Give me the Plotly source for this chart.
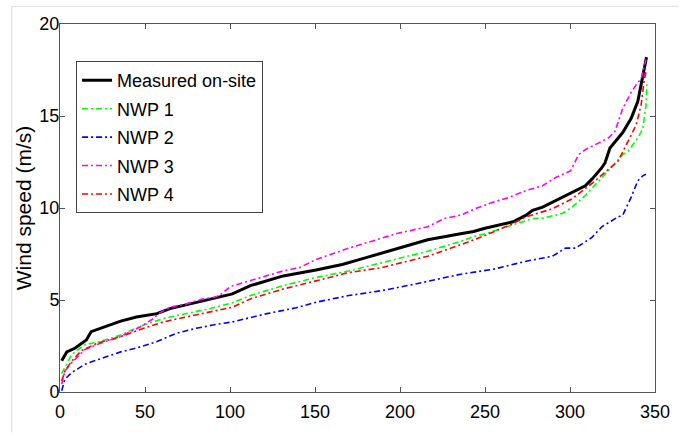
import plotly.graph_objects as go

# Sorted wind speed (duration curves), m/s vs. sample rank
measured_x = [1, 4, 9, 15.5, 18.3, 26, 35.7, 45, 50.2, 57, 64.7, 74.3, 84, 93.7, 101.4, 112, 131.3,
              150.6, 166, 179.6, 193, 208.6, 216.3, 235.6, 243.3, 250, 266.5, 274.2, 278, 283.9,
              295.5, 301.3, 309, 312.9, 318.7, 320.6, 323.5, 331, 336, 339.9, 341.8, 343.7, 345]
measured_y = [1.7, 2.18, 2.39, 2.83, 3.28, 3.55, 3.85, 4.08, 4.17, 4.26, 4.53, 4.74, 4.92, 5.15, 5.33,
              5.78, 6.31, 6.63, 6.93, 7.29, 7.65, 8.09, 8.27, 8.6, 8.72, 8.9, 9.25, 9.61, 9.87, 10.05,
              10.59, 10.85, 11.21, 11.57, 12.19, 12.46, 13.26, 14.1, 14.87, 15.8, 16.7, 17.54, 18.2]

nwp1_x = [1, 6.8, 14.5, 22.2, 35.7, 49.2, 60.8, 74.3, 87.9, 101.4, 112, 131.3, 150.6, 169.9, 189.3,
          208.6, 216.3, 235.6, 243.3, 250, 266.5, 278, 283.9, 295.5, 301.3, 309, 322.5, 331, 334.1,
          339.9, 342.8, 344.7, 345.3]
nwp1_y = [1.0, 2.03, 2.57, 2.71, 3.1, 3.64, 3.99, 4.26, 4.53, 4.85, 5.24, 5.78, 6.22, 6.58, 7.02,
          7.47, 7.65, 8.18, 8.45, 8.6, 9.07, 9.43, 9.45, 9.7, 10.05, 10.68, 12.02, 12.9, 13.08,
          13.8, 14.3, 15.58, 16.8]

nwp2_x = [1, 2.9, 6.8, 14.5, 22.2, 35.7, 45, 57, 68.5, 80.1, 89.8, 101.4, 121.7, 139, 150.6, 169.9,
          189.3, 208.6, 235.6, 254.9, 274.2, 289.7, 297.4, 303.2, 312.9, 318.7, 328.3, 331, 336,
          339.9, 342.8, 344.7]
nwp2_y = [0.07, 0.7, 1.05, 1.5, 1.76, 2.18, 2.39, 2.74, 3.19, 3.46, 3.64, 3.81, 4.26, 4.58, 4.88,
          5.24, 5.51, 5.86, 6.4, 6.67, 7.11, 7.38, 7.82, 7.82, 8.4, 8.98, 9.52, 9.61, 10.59, 11.48,
          11.75, 11.83]

nwp3_x = [1, 2.9, 6.8, 14.5, 22.2, 35.7, 47.3, 55, 58, 64.7, 74.3, 84, 90.8, 93.7, 100.4, 112,
          121.7, 131.3, 141, 150.6, 169.9, 179.6, 189.3, 198.9, 216.3, 226, 235.6, 245.3, 254.9,
          264.6, 274.2, 283.9, 291.6, 300.3, 305.1, 309, 314.8, 322.5, 326.4, 331, 336, 339.9,
          341.8, 343.3, 344.7]
nwp3_y = [0.43, 1.14, 1.59, 2.3, 2.6, 3.01, 3.55, 3.99, 4.26, 4.61, 4.79, 5.06, 5.15, 5.24, 5.74,
          6.04, 6.31, 6.58, 6.76, 7.2, 7.82, 8.09, 8.36, 8.63, 8.98, 9.43, 9.61, 10.0, 10.32,
          10.59, 10.95, 11.21, 11.66, 12.02, 12.9, 13.17, 13.44, 13.8, 14.15, 15.4, 16.29, 16.83,
          17.0, 17.54, 18.07]

nwp4_x = [1, 2.9, 6.8, 12.6, 22.2, 35.7, 49.2, 60.8, 74.3, 87.9, 101.4, 112, 131.3, 150.6, 169.9,
          189.3, 208.6, 216.3, 235.6, 243.3, 250, 266.5, 274.2, 289.7, 301.3, 314.8, 328.3, 334.1,
          338.9, 341.8, 343.7, 345]
nwp4_y = [0.6, 1.14, 1.67, 2.25, 2.66, 3.01, 3.46, 3.81, 4.08, 4.35, 4.61, 5.06, 5.6, 6.04, 6.49,
          6.76, 7.2, 7.38, 8.0, 8.27, 8.5, 9.16, 9.52, 9.96, 10.5, 11.48, 12.55, 13.62, 14.51,
          15.58, 17.0, 17.5]

x_ticks = [0, 50, 100, 150, 200, 250, 300, 350]
y_ticks = [0, 5, 10, 15, 20]

FONT = "Arial, Liberation Sans, sans-serif"
DASHDOT = "6px,3px,2px,3px"

series = [
    ("Measured on-site", measured_x, measured_y, "#000000", 3, "solid"),
    ("NWP 1", nwp1_x, nwp1_y, "#00ff00", 1.6, DASHDOT),
    ("NWP 2", nwp2_x, nwp2_y, "#0000ff", 1.6, DASHDOT),
    ("NWP 3", nwp3_x, nwp3_y, "#ff00ff", 1.6, DASHDOT),
    ("NWP 4", nwp4_x, nwp4_y, "#ff0000", 1.6, DASHDOT),
]

fig = go.Figure()
for name, xs, ys, color, width, dash in series:
    fig.add_trace(go.Scatter(
        x=xs, y=ys, mode="lines", name=name, legendgroup=name,
        line=dict(color=color, width=width, dash=dash),
    ))

axis_common = dict(
    showline=True, linecolor="#555555", linewidth=1, mirror="ticks",
    ticks="inside", ticklen=5, tickcolor="#555555", tickwidth=1,
    showgrid=False, zeroline=False,
    tickfont=dict(family=FONT, size=18, color="#000000"),
)

fig.update_layout(
    width=682, height=434,
    margin=dict(l=60, r=18, t=24, b=36),
    paper_bgcolor="white", plot_bgcolor="white",
    font=dict(family=FONT, size=18, color="#000000"),
    xaxis=dict(range=[0, 350], tickvals=x_ticks, ticklabelstandoff=3, **axis_common),
    yaxis=dict(range=[0, 20], tickvals=y_ticks, ticklabelstandoff=-4,
               title=dict(text="Wind speed (m/s)", font=dict(family=FONT, size=21), standoff=2),
               **axis_common),
    legend=dict(
        x=0.027, y=0.899, xanchor="left", yanchor="top",
        bgcolor="white", bordercolor="#444444", borderwidth=1,
        font=dict(family=FONT, size=18, color="#000000"),
        tracegroupgap=2, itemwidth=30,
    ),
    shapes=[
        # light frame lines of the figure window
        dict(type="line", xref="paper", yref="paper", x0=-0.0811, x1=1.04, y0=1.0481, y1=1.0481,
             line=dict(color="#dcdcdc", width=1)),
        dict(type="line", xref="paper", yref="paper", x0=-0.0811, x1=-0.0811, y0=1.0481, y1=-0.11,
             line=dict(color="#dcdcdc", width=1)),
    ],
)

fig.write_html("out.html")
